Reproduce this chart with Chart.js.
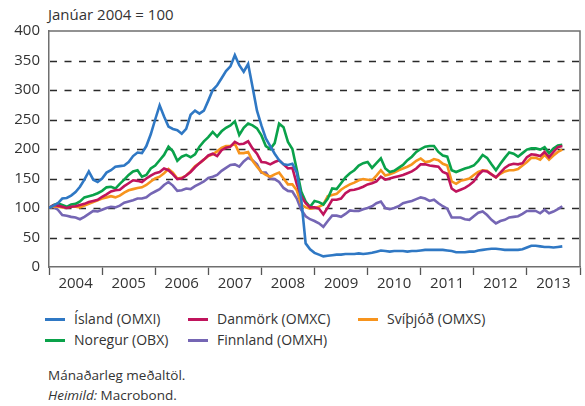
<!DOCTYPE html>
<html lang="is">
<head>
<meta charset="utf-8">
<title>Hlutabréfavísitölur á Norðurlöndum</title>
<script src="https://cdn.jsdelivr.net/npm/chart.js@4.4.1/dist/chart.umd.min.js"></script>
<style>
  html, body { margin: 0; padding: 0; background: #fff; }
  body { width: 585px; height: 406px; position: relative; overflow: hidden; font-family: "Open Sans", "Noto Sans", sans-serif; color: #333; }
  #chart-wrap { position: absolute; left: 0; top: 0; width: 585px; height: 300px; }
  .unit { position: absolute; left: 48px; top: 5px; font-size: 15px; line-height: 18px; }
  .legend { position: absolute; left: 0; top: 309px; width: 585px; height: 44px; }
  .legend-item { position: absolute; font-size: 14px; line-height: 20px; white-space: nowrap; }
  .legend-item .swatch { position: absolute; left: 0; top: 9px; width: 20px; height: 3px; }
  .legend-item .lbl { position: absolute; left: 29px; top: 0; }
  .note { position: absolute; left: 48px; font-size: 13.5px; line-height: 18px; }
</style>
</head>
<body>
<div class="unit">Janúar 2004 = 100</div>
<div id="chart-wrap"><canvas id="chart"></canvas></div>
<div class="legend" id="legend"></div>
<div class="note" style="top:366px">Mánaðarleg meðaltöl.</div>
<div class="note" style="top:386px"><i>Heimild:</i> Macrobond.</div>

<script>
// Mánaðarleg gildi, janúar 2004 (0) til september 2013 (116)
const yearLabels = ['2004', '2005', '2006', '2007', '2008', '2009', '2010', '2011', '2012', '2013'];
const yTicks = [0, 50, 100, 150, 200, 250, 300, 350, 400];

const seriesNames = ['Ísland (OMXI)', 'Danmörk (OMXC)', 'Svíþjóð (OMXS)', 'Noregur (OBX)', 'Finnland (OMXH)'];
const seriesColors = ['#2f78c4', '#c0145c', '#f7941d', '#0aa24a', '#7566b4'];

const island = [
  100, 104, 108, 116, 117, 121, 127, 136, 148, 162, 148, 144,
  150, 160, 164, 170, 171, 172, 178, 188, 194, 193, 205, 225,
  250, 274, 255, 238, 234, 232, 226, 234, 258, 265, 260, 265,
  282, 300, 308, 320, 332, 340, 359, 342, 331, 344, 305, 265,
  240, 218, 205, 192, 181, 174, 173, 175, 160, 115, 40, 30,
  24, 21, 18, 19, 20, 21, 21, 22, 22, 22, 23, 22,
  23, 24, 26, 28, 27, 26, 27, 27, 27, 26, 27, 27,
  28, 29, 29, 29, 29, 29, 28, 27, 25, 25, 25, 26,
  26, 28, 29, 30, 31, 31, 30, 29, 29, 29, 29, 30,
  33, 36, 36, 35, 34, 34, 33, 34, 35
];

const danmork = [
  100, 105, 104, 102, 100, 102, 103, 105, 107, 110, 112, 114,
  119, 123, 128, 130, 131, 137, 142, 147, 146, 144, 150, 155,
  159, 161, 167, 164, 157, 149, 150, 155, 161, 169, 176, 182,
  189, 192, 188, 198, 202, 204, 212, 208, 209, 213, 201, 192,
  178, 177, 174, 178, 181, 174, 167, 168, 140, 120, 108, 101,
  101, 99, 89, 101, 114, 114, 116, 125, 130, 131, 133, 136,
  140, 142, 145, 153, 148, 150, 152, 154, 156, 159, 162, 167,
  174, 174, 172, 171, 170, 161, 158, 133, 128, 131, 134, 139,
  145, 156, 163, 162, 157, 152, 160, 168, 173, 175, 174, 176,
  186, 191, 190, 188, 195, 186, 195, 203, 205
];

const svithjod = [
  100, 103, 102, 101, 101, 102, 102, 101, 104, 107, 110, 113,
  116, 118, 120, 118, 121, 126, 130, 132, 134, 135, 139, 145,
  150, 153, 159, 166, 160, 150, 151, 155, 162, 171, 176, 182,
  188, 191, 196, 202, 205, 205, 209, 193, 193, 195, 180, 170,
  161, 156, 153, 157, 160, 150, 140, 140, 130, 106, 101, 99,
  100, 102, 106, 120, 122, 124, 131, 136, 140, 143, 147, 149,
  148, 147, 155, 164, 155, 157, 160, 164, 167, 170, 174, 180,
  184, 178, 179, 183, 181, 175, 172, 145, 141, 146, 148, 150,
  156, 161, 164, 163, 157, 152, 158, 162, 164, 164, 166, 172,
  178, 185, 185, 182, 190, 182, 189, 195, 199
];

const noregur = [
  100, 105, 108, 105, 102, 106, 107, 111, 118, 120, 122, 125,
  129, 135, 136, 133, 141, 148, 156, 162, 164, 153, 156, 167,
  172, 181, 190, 204, 196, 180, 187, 190, 186, 191, 204, 213,
  220, 229, 221, 230, 236, 240, 247, 224, 236, 243, 240, 235,
  223, 205, 200, 210, 243, 237, 212, 200, 165, 128, 111, 102,
  112, 110, 106, 116, 133, 132, 142, 152, 159, 164, 172, 176,
  178, 168, 176, 184, 167, 161, 163, 168, 173, 181, 187, 195,
  200, 204, 205, 205, 195, 189, 187, 164, 161, 164, 167, 169,
  172, 180, 190, 185, 174, 164, 175, 185, 194, 192, 187, 193,
  199, 201, 201, 199, 203, 193, 201, 206, 207
];

const finnland = [
  100, 102, 97, 88, 87, 85, 84, 81, 85, 90, 95, 94,
  97, 100, 102, 101, 104, 109, 111, 113, 116, 116, 118, 124,
  128, 132, 139, 144, 138, 129, 130, 133, 132, 137, 141, 145,
  151, 153, 156, 163, 168, 173, 174, 170, 179, 185, 181, 174,
  160, 160, 150, 149, 144, 134, 129, 128, 116, 97, 86, 81,
  78, 74, 68, 78, 87, 87, 85, 90, 96, 95, 95, 98,
  100, 103, 108, 111, 100, 98, 100, 103, 108, 110, 112, 115,
  118, 116, 112, 114, 108, 103, 99, 84, 84, 84, 81, 80,
  86, 92, 94, 88, 80, 74, 78, 80, 84, 85, 86, 90,
  95, 95, 95, 91, 97, 91, 94, 98, 103
];

const seriesValues = [island, danmork, svithjod, noregur, finnland];
// teikniröð: Ísland efst, Finnland neðst
const drawOrder = [0, 1, 3, 2, 4];

const toPoints = values => values.map((v, i) => ({ x: i, y: v }));

// Strikaðar hnitalínur innan teiknisvæðisins
const dashedGrid = {
  id: 'dashedGrid',
  beforeDatasetsDraw(chart) {
    const { ctx, chartArea: a, scales } = chart;
    ctx.save();
    ctx.strokeStyle = '#2a2a2a';
    ctx.lineWidth = 1.3;
    ctx.setLineDash([7, 7.5]);
    yTicks.filter(v => v > 0 && v < 400).forEach(v => {
      const y = Math.round(scales.y.getPixelForValue(v)) + 0.5;
      ctx.beginPath();
      ctx.moveTo(a.left + 1, y);
      ctx.lineTo(a.right, y);
      ctx.stroke();
    });
    ctx.restore();
  }
};

// Rammi utan um teiknisvæðið (efri og hægri brún)
const frameBorder = {
  id: 'frameBorder',
  afterDatasetsDraw(chart) {
    const { ctx, chartArea: a } = chart;
    ctx.save();
    ctx.strokeStyle = '#6f6f6f';
    ctx.lineWidth = 1.5;
    ctx.beginPath();
    ctx.moveTo(a.left, a.top);
    ctx.lineTo(a.right, a.top);
    ctx.lineTo(a.right, a.bottom);
    ctx.stroke();
    ctx.restore();
  }
};

const renderLegend = () => {
  const container = document.getElementById('legend');
  const slots = [
    { left: 45, top: 0 }, { left: 188, top: 0 }, { left: 358, top: 0 },
    { left: 45, top: 21 }, { left: 188, top: 21 }
  ];
  container.innerHTML = seriesNames.map((name, i) => `
    <div class="legend-item" style="left:${slots[i].left}px;top:${slots[i].top}px">
      <span class="swatch" style="background:${seriesColors[i]}"></span>
      <span class="lbl">${name}</span>
    </div>
  `).join('');
};

const renderChart = () => {
  const ctx = document.getElementById('chart');
  new Chart(ctx, {
    type: 'line',
    data: {
      datasets: seriesNames.map((name, i) => ({
        label: name,
        data: toPoints(seriesValues[i]),
        borderColor: seriesColors[i],
        backgroundColor: seriesColors[i],
        borderWidth: 2.6,
        pointRadius: 0,
        tension: 0,
        order: drawOrder[i]
      }))
    },
    options: {
      responsive: true,
      maintainAspectRatio: false,
      animation: false,
      events: [],
      layout: { padding: { left: 0, right: 5, top: 31, bottom: 0 } },
      plugins: {
        legend: { display: false },
        tooltip: { enabled: false }
      },
      scales: {
        x: {
          type: 'linear',
          min: 0,
          max: 120,
          afterFit: scale => { scale.height = 33; },
          afterBuildTicks: scale => {
            const ticks = [];
            for (let v = 0; v <= 120; v += 6) ticks.push({ value: v });
            scale.ticks = ticks;
          },
          ticks: {
            autoSkip: false,
            maxRotation: 0,
            padding: 0,
            color: '#333',
            font: { family: 'Open Sans', size: 15 },
            callback: v => (v % 12 === 6 ? yearLabels[(v - 6) / 12] : '')
          },
          grid: {
            drawOnChartArea: false,
            drawTicks: true,
            tickLength: 8,
            tickWidth: 1.3,
            tickColor: c => (c.tick && c.tick.value % 12 === 0 ? '#555' : 'rgba(0,0,0,0)')
          },
          border: { color: '#6f6f6f', width: 1.5 }
        },
        y: {
          min: 0,
          max: 400,
          afterFit: scale => { scale.width = 49; },
          afterBuildTicks: scale => { scale.ticks = yTicks.map(v => ({ value: v })); },
          ticks: {
            padding: 9,
            color: '#333',
            font: { family: 'Open Sans', size: 15 }
          },
          grid: { display: true, drawOnChartArea: false, drawTicks: false },
          border: { color: '#6f6f6f', width: 1.5 }
        }
      }
    },
    plugins: [dashedGrid, frameBorder]
  });
};

document.addEventListener('DOMContentLoaded', () => {
  renderLegend();
  renderChart();
});
</script>
</body>
</html>
